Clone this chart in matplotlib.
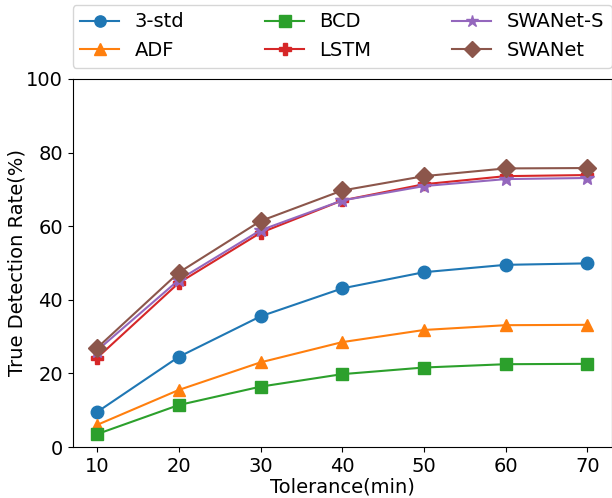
import matplotlib
matplotlib.use("Agg")
import matplotlib.pyplot as plt

tolerance = [10, 20, 30, 40, 50, 60, 70]

std3 = [9.5, 24.5, 35.5, 43.1, 47.5, 49.5, 49.9]
adf = [6.0, 15.5, 23.0, 28.5, 31.8, 33.1, 33.2]
bcd = [3.5, 11.4, 16.4, 19.8, 21.6, 22.5, 22.6]
lstm = [24.2, 44.6, 58.2, 67.0, 71.4, 73.6, 73.9]
swanet_s = [26.2, 45.4, 58.9, 67.0, 70.9, 72.8, 73.1]
swanet = [26.9, 47.4, 61.4, 69.7, 73.6, 75.7, 75.8]

fig = plt.figure(figsize=(6.12, 4.98), dpi=100)
ax = fig.add_axes([0.1185, 0.1024, 0.8815, 0.739])

ax.plot(tolerance, std3, marker='o', markersize=9, color='#1f77b4', label='3-std')
ax.plot(tolerance, adf, marker='^', markersize=9, color='#ff7f0e', label='ADF')
ax.plot(tolerance, bcd, marker='s', markersize=9, color='#2ca02c', label='BCD')
ax.plot(tolerance, lstm, marker='P', markersize=9, color='#d62728', label='LSTM')
ax.plot(tolerance, swanet_s, marker='*', markersize=10, color='#9467bd', label='SWANet-S')
ax.plot(tolerance, swanet, marker='D', markersize=9, color='#8c564b', label='SWANet')

ax.set_ylim(0, 100)
ax.set_xticks(tolerance)
ax.tick_params(labelsize=14)
ax.set_xlabel('Tolerance(min)', fontsize=14, labelpad=1)
ax.set_ylabel('True Detection Rate(%)', fontsize=14)
ax.yaxis.set_label_coords(-0.086, 0.5)

ax.legend(loc='lower left', bbox_to_anchor=(0, 1.03, 1, 0.2), mode='expand',
          ncol=3, fontsize=14, borderaxespad=0, markerscale=0.9)

fig.savefig('out.png', dpi=100)
